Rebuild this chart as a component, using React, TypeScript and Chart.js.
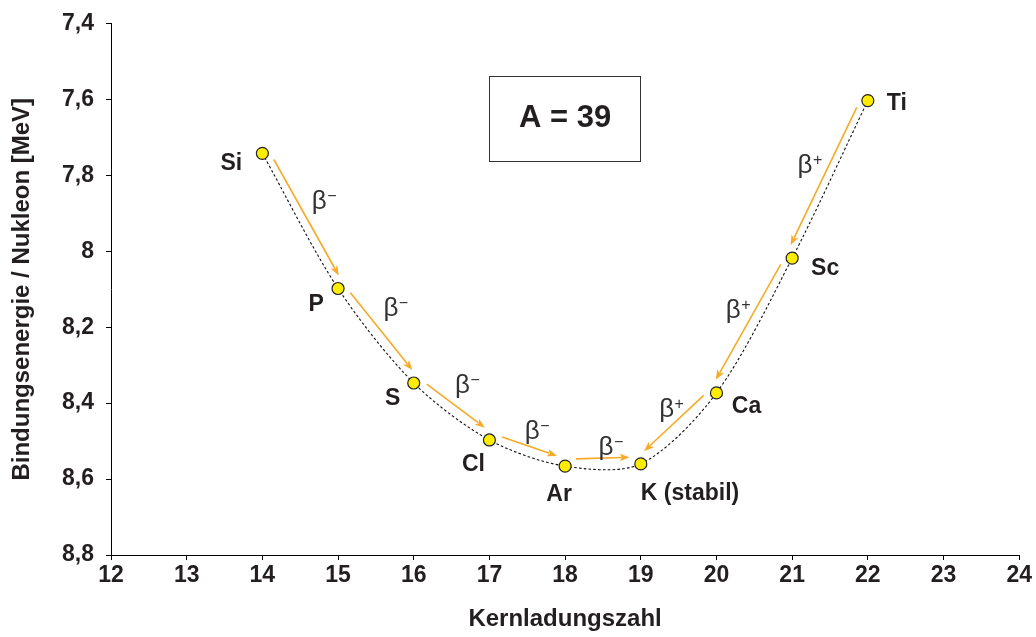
import React, { useEffect, useRef } from "react";
import { Chart, registerables } from "chart.js";

Chart.register(...registerables);

// Isobars with mass number A = 39
const elementNames = ["Si", "P", "S", "Cl", "Ar", "K (stabil)", "Ca", "Sc", "Ti"];
const chargeNumbers = [14, 15, 16, 17, 18, 19, 20, 21, 22];
const bindingEnergyPerNucleon = [7.742, 8.098, 8.347, 8.497, 8.566, 8.56, 8.373, 8.018, 7.603];

// Decay chain: index of parent -> index of daughter, with decay type
const decayFrom = [0, 1, 2, 3, 4, 8, 7, 6];
const decayTo = [1, 2, 3, 4, 5, 7, 6, 5];
const decaySign = ["−", "−", "−", "−", "−", "+", "+", "+"];

const xRange = [12, 24];
const yRange = [7.4, 8.8];
const massNumberText = "A = 39";
// Annotation box corners in data units (Z, MeV)
const boxCorners = [17, 7.539, 19, 7.762];

// Label placement (pixel offsets from the marker)
const nameOffsets: [number, number, CanvasTextAlign][] = [
  [-31, 10, "center"],
  [-22, 16, "center"],
  [-21, 16, "center"],
  [-16, 25, "center"],
  [-6, 28, "center"],
  [0, 30, "left"],
  [30, 14, "center"],
  [33, 11, "center"],
  [29, 3, "center"],
];
// Beta label placement (pixel offsets from the chord midpoint)
const betaOffsets: [number, number][] = [
  [19, -19],
  [15, -27],
  [11, -26],
  [5, -21],
  [3, -17],
  [-25, -14],
  [-21, -15],
  [-12, -19],
];

const FONT = "'Liberation Sans', Arial, Helvetica, sans-serif";
const TEXT = "#231f20";
const ARROW = "#F6AA25";

const fmt = (v: number) => String(Number(v.toFixed(1))).replace(".", ",");

const decayPlugin = {
  id: "decayAnnotations",
  beforeDatasetsDraw(chart: any) {
    const { ctx, scales } = chart;
    const xs = scales.x;
    const ys = scales.y;
    ctx.save();
    // annotation box
    const bx0 = xs.getPixelForValue(boxCorners[0]);
    const by0 = ys.getPixelForValue(boxCorners[1]);
    const bx1 = xs.getPixelForValue(boxCorners[2]);
    const by1 = ys.getPixelForValue(boxCorners[3]);
    ctx.strokeStyle = "#333";
    ctx.lineWidth = 1;
    ctx.strokeRect(Math.round(bx0) + 0.5, Math.round(by0) + 0.5, Math.round(bx1 - bx0), Math.round(by1 - by0));
    ctx.fillStyle = TEXT;
    ctx.font = `bold 31px ${FONT}`;
    ctx.textAlign = "center";
    ctx.textBaseline = "middle";
    ctx.fillText(massNumberText, (bx0 + bx1) / 2, (by0 + by1) / 2);

    // decay arrows, offset to the upper side of each chord
    const shrink = 11;
    const offset = 7;
    for (let i = 0; i < decayFrom.length; i++) {
      const a = decayFrom[i];
      const b = decayTo[i];
      const x0 = xs.getPixelForValue(chargeNumbers[a]);
      const y0 = ys.getPixelForValue(bindingEnergyPerNucleon[a]);
      const x1 = xs.getPixelForValue(chargeNumbers[b]);
      const y1 = ys.getPixelForValue(bindingEnergyPerNucleon[b]);
      const len = Math.hypot(x1 - x0, y1 - y0);
      const dx = (x1 - x0) / len;
      const dy = (y1 - y0) / len;
      let px = dy;
      let py = -dx;
      if (py > 0 || (py === 0 && px > 0)) {
        px = -px;
        py = -py;
      }
      const sx = x0 + dx * shrink + px * offset;
      const sy = y0 + dy * shrink + py * offset;
      const ex = x1 - dx * shrink + px * offset;
      const ey = y1 - dy * shrink + py * offset;
      const head = 10;
      const hw = 3.8;
      ctx.strokeStyle = ARROW;
      ctx.fillStyle = ARROW;
      ctx.lineWidth = 1.6;
      ctx.beginPath();
      ctx.moveTo(sx, sy);
      ctx.lineTo(ex - dx * head * 0.8, ey - dy * head * 0.8);
      ctx.stroke();
      ctx.beginPath();
      ctx.moveTo(ex, ey);
      ctx.lineTo(ex - dx * head + dy * hw, ey - dy * head - dx * hw);
      ctx.lineTo(ex - dx * head * 0.75, ey - dy * head * 0.75);
      ctx.lineTo(ex - dx * head - dy * hw, ey - dy * head + dx * hw);
      ctx.closePath();
      ctx.fill();

      // beta label
      const mx = (x0 + x1) / 2 + betaOffsets[i][0];
      const my = (y0 + y1) / 2 + betaOffsets[i][1];
      ctx.fillStyle = "#333";
      ctx.font = `26px ${FONT}`;
      ctx.textAlign = "center";
      ctx.textBaseline = "middle";
      ctx.fillText("β", mx, my);
      const w = ctx.measureText("β").width;
      ctx.font = `16px ${FONT}`;
      ctx.textAlign = "left";
      ctx.fillText(decaySign[i], mx + w / 2 + 0.5, my - 5);
    }
    ctx.restore();
  },
  afterDatasetsDraw(chart: any) {
    const { ctx, scales } = chart;
    ctx.save();
    ctx.fillStyle = TEXT;
    ctx.font = `bold 23px ${FONT}`;
    ctx.textBaseline = "middle";
    for (let i = 0; i < elementNames.length; i++) {
      const x = scales.x.getPixelForValue(chargeNumbers[i]);
      const y = scales.y.getPixelForValue(bindingEnergyPerNucleon[i]);
      const [ox, oy, align] = nameOffsets[i];
      ctx.textAlign = align;
      ctx.fillText(elementNames[i], x + ox, y + oy);
    }
    ctx.restore();
  },
};

export default function App() {
  const canvasRef = useRef<HTMLCanvasElement | null>(null);

  useEffect(() => {
    if (!canvasRef.current) return;
    const font = { family: FONT, size: 23, weight: "bold" as const, lineHeight: 1 };
    const titleFont = { family: FONT, size: 24, weight: "bold" as const, lineHeight: 1 };
    const chart = new Chart(canvasRef.current, {
      type: "line",
      data: {
        datasets: [
          {
            data: chargeNumbers.map((z, i) => ({ x: z, y: bindingEnergyPerNucleon[i] })),
            borderColor: "#111",
            borderWidth: 1.1,
            borderDash: [2.6, 2.2],
            tension: 0.3,
            pointRadius: 6,
            pointBackgroundColor: "#FFED00",
            pointBorderColor: "#222",
            pointBorderWidth: 1.2,
            fill: false,
          },
        ],
      },
      options: {
        responsive: false,
        animation: false,
        layout: { padding: { top: 20, right: 16, left: 0, bottom: 0 } },
        plugins: { legend: { display: false }, tooltip: { enabled: false } },
        scales: {
          x: {
            type: "linear",
            min: xRange[0],
            max: xRange[1],
            ticks: { stepSize: 1, color: TEXT, font, padding: 4 },
            grid: { drawOnChartArea: false, drawTicks: true, tickLength: 5, color: "#000" },
            border: { display: true, color: "#000", width: 1 },
            title: {
              display: true,
              text: "Kernladungszahl",
              color: TEXT,
              font: titleFont,
              padding: { top: 0, bottom: 6 },
            },
            afterFit: (s: any) => {
              s.height = 82;
            },
          },
          y: {
            type: "linear",
            reverse: true,
            min: yRange[0],
            max: yRange[1],
            ticks: { stepSize: 0.2, color: TEXT, font, padding: 12, callback: (v: any) => fmt(Number(v)) },
            grid: { drawOnChartArea: false, drawTicks: true, tickLength: 5, color: "#000" },
            border: { display: true, color: "#000", width: 1 },
            title: {
              display: true,
              text: "Bindungsenergie / Nukleon [MeV]",
              color: TEXT,
              font: titleFont,
              padding: { top: 10, bottom: 0 },
            },
            afterFit: (s: any) => {
              s.width = 111;
            },
          },
        },
      },
      plugins: [decayPlugin],
    });
    return () => chart.destroy();
  }, []);

  return (
    <div style={{ position: "absolute", left: 0, top: 0, width: 1036, height: 637, background: "#fff" }}>
      <canvas ref={canvasRef} width={1036} height={637} />
    </div>
  );
}
